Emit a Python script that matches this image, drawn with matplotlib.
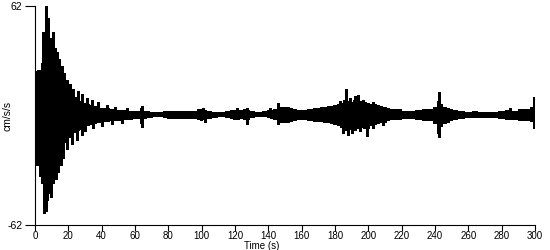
import numpy as np
import matplotlib
matplotlib.use("Agg")
import matplotlib.pyplot as plt

plt.rcParams['axes.unicode_minus'] = False

# envelope of the record (time in s, cm/s/s)
zaman = [0, 1, 2, 3, 4, 5, 6, 7, 8, 9, 10, 11, 12, 13, 14, 15, 16, 17, 18, 19,
         20, 21, 22, 23, 24, 26, 28, 30, 32, 34, 36, 38, 40, 42, 44, 46, 48, 50,
         52, 54, 56, 58, 60, 62, 64, 66, 68, 70, 72, 74, 76, 78, 80, 84, 88, 92,
         96, 98, 100, 102, 104, 108, 112, 116, 118, 120, 122, 124, 126, 128, 130,
         134, 138, 140, 142, 144, 146, 148, 150, 152, 154, 156, 158, 160, 162,
         164, 166, 168, 170, 172, 174, 176, 178, 180, 182, 184, 186, 188, 190,
         192, 194, 196, 198, 200, 202, 204, 206, 208, 210, 212, 214, 218, 222,
         226, 230, 234, 238, 240, 242, 244, 246, 248, 250, 252, 256, 260, 264,
         268, 272, 276, 280, 284, 288, 292, 296, 298, 300]
ust = [20, 22, 23, 22, 24, 27, 32, 36, 36, 34, 32, 30, 28, 26, 24, 22, 20, 18, 16, 15,
       14, 13, 12, 11, 10.5, 9, 8, 7, 6.5, 6, 5.5, 5, 4.5, 4.2, 4, 3.7, 3.5, 3.3,
       3.1, 2.9, 2.7, 2.6, 2.6, 2.5, 4.5, 2.7, 2.5, 2.1, 1.8, 1.8, 2, 2.4, 2.5, 2.5, 2.6, 2.6,
       2.8, 3.4, 3.5, 3.2, 2.8, 2.2, 2.2, 2.4, 3.1, 3.2, 3.3, 3.1, 3.4, 3.1, 2.4,
       2.2, 2.4, 2.9, 3.3, 3.8, 4.6, 5, 5, 4.7, 4.2, 3.5, 3.2, 3.1, 3.2,
       3.5, 3.9, 4.1, 4.3, 4.6, 5, 5.2, 5.4, 5.8, 6.4, 7.2, 8.5, 8, 7.8,
       8.5, 9, 8.2, 7.4, 7, 6.6, 6.4, 6, 5.2, 4.8, 4.2, 3.8, 3.6, 2.8,
       2.7, 3, 3.5, 3.8, 5, 8, 6.5, 4.8, 4.2, 3.4, 3, 2.4, 2.2, 2.3,
       2.2, 2.2, 2.2, 2.7, 3, 2.8, 3.6, 3.8, 4.6, 5.5]
alt = [-24, -22, -21, -27, -29, -32, -36, -38, -40, -38, -35, -32, -30, -28, -25, -22, -19, -17, -15.5, -14.5,
       -13.5, -12.5, -11.5, -11, -10, -9, -8, -7, -6, -5.2, -4.8, -4.3, -4, -3.7, -3.4, -3.3, -3.3, -3.2,
       -3, -2.8, -2.5, -2.4, -2, -1.8, -5, -2, -1.6, -1.2, -0.8, -0.8, -1, -1.5, -1.8, -1.8, -2, -1.8,
       -2, -2.8, -3, -2.5, -2, -1.2, -1, -1.2, -2.1, -2.3, -2.3, -2.1, -2.8, -2.4, -1.2,
       -0.8, -1, -1.6, -2.1, -2.8, -3.7, -4.1, -4.3, -4, -3.4, -2.9, -2.5, -2.4, -2.5,
       -2.9, -3.2, -3.4, -3.6, -3.8, -4.2, -4.4, -4.8, -5.3, -6, -7.2, -8.5, -8.2, -8.2,
       -8.5, -7.8, -7, -7.4, -7.6, -6, -5.2, -5, -4.4, -4, -3.3, -2.7, -2.4, -2.2,
       -2.1, -2.4, -2.9, -3.3, -4.6, -8, -6.5, -5, -4.3, -2.9, -2.4, -1.8, -1.6, -1.6,
       -1.6, -1.6, -1.6, -2.2, -2.5, -2.4, -2.9, -3.1, -3.8, -4.6]

# single peaks sticking out of the envelope, top and bottom
pik_ust_t = [0.5, 2, 3.2, 4, 5, 6.6, 7.3, 8, 9, 10, 11, 12, 13.5, 14.5, 16, 17.5, 19,
             21, 23, 25.5, 28, 31, 34, 38, 43, 48, 55, 64, 101, 121, 127, 141, 146,
             183, 186.6, 189, 192, 194, 197, 203, 242.6, 285, 299.5]
pik_ust = [25, 26, 26, 30, 47, 62, 40, 55, 44, 38, 47, 38, 36, 32, 28, 24, 20,
           18, 15, 14, 12, 10, 9, 7.5, 6, 5, 4.5, 5.5, 4, 4.4, 4.4, 4.4, 6.9,
           8, 15.2, 10, 11, 11.6, 9, 7.5, 13.5, 4, 10.6]
pik_alt_t = [1, 3, 4.2, 5.6, 6.6, 7.5, 8.2, 9.5, 11, 12.5, 14, 15.5, 17, 19, 22, 25,
             28, 30, 35, 40, 46, 52, 64, 102, 127, 146, 185, 188, 190, 195, 199.4,
             203, 209, 241.5, 242.6, 299.5]
pik_alt = [-28, -34, -38, -55, -54, -48, -44, -46, -38, -36, -32, -28, -24, -19, -16, -14,
           -11, -9, -7, -6, -5, -4.5, -6.3, -3.5, -4.8, -4.8, -10, -11, -10, -9, -11.6,
           -7, -5.5, -10, -12, -7.2]

fig = plt.figure(figsize=(5.5, 2.5), dpi=100)
ax = fig.add_axes([35 / 550, 25 / 250, 500 / 550, 219 / 250])

ax.fill_between(zaman, alt, ust, step='mid', color='black', lw=0, antialiased=False)
ax.vlines(pik_ust_t, 0, pik_ust, color='black', lw=1.0, antialiased=False)
ax.vlines(pik_alt_t, pik_alt, 0, color='black', lw=1.0, antialiased=False)

ax.set_xlim(0, 300)
ax.set_ylim(-62, 62)
ax.set_xticks(np.arange(0, 301, 20))
ax.set_yticks([-62, 62])
for s in ['top', 'right']:
    ax.spines[s].set_visible(False)
ax.tick_params(axis='x', length=4, pad=0, labelsize=7)
ax.tick_params(axis='y', length=7, pad=2, labelsize=7.5)
for lab in ax.get_xticklabels() + ax.get_yticklabels():
    lab.set_family('Liberation Sans')

ax.set_xlabel('Time (s)', family='Liberation Sans', fontsize=7, va='bottom')
ax.xaxis.set_label_coords(0.454, -0.118)
ax.set_ylabel('cm/s/s', family='Liberation Sans', fontsize=7.5)
ax.yaxis.set_label_coords(-0.045, 0.5)

plt.savefig('out.png', dpi=100)
